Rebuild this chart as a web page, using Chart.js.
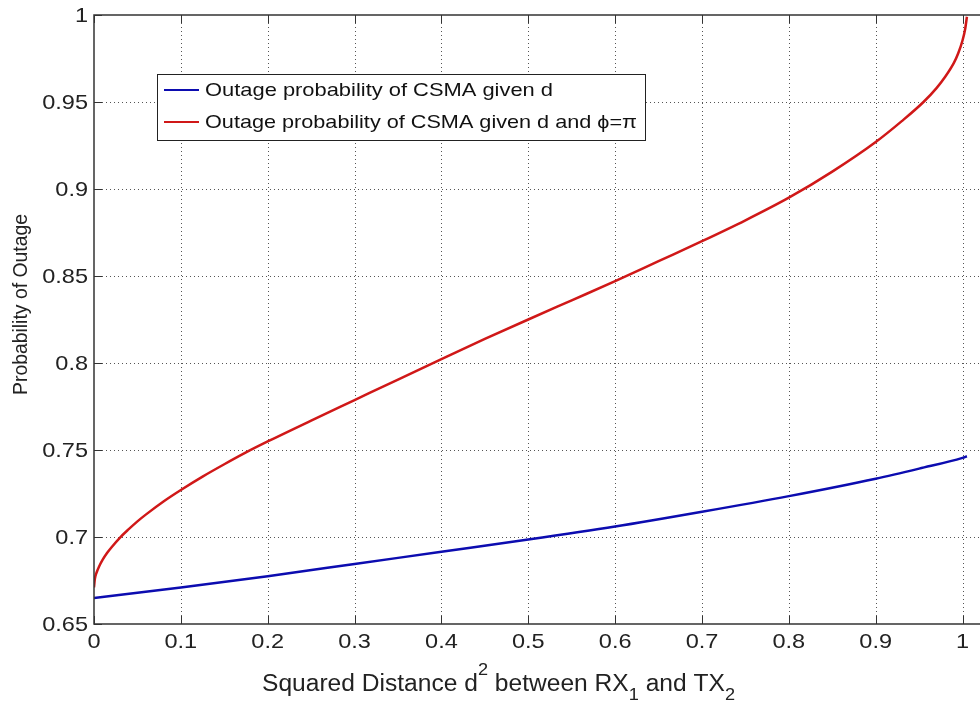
<!DOCTYPE html>
<html>
<head>
<meta charset="utf-8">
<script src="https://cdn.jsdelivr.net/npm/chart.js@4"></script>
<style>
  html, body { margin: 0; padding: 0; background: #fff; overflow: hidden; }
  #wrap { width: 1010px; height: 704px; }
</style>
</head>
<body>
<div id="wrap"><canvas id="myChart" width="1010" height="704"></canvas></div>
<script>
// 資料：值
const blueX = [0, 0.1, 0.2, 0.3, 0.4, 0.5, 0.6, 0.7, 0.8, 0.9, 0.95, 1.0, 1.005];
const blueY = [0.665, 0.671, 0.6775, 0.6845, 0.6915, 0.6985, 0.706, 0.7145, 0.7235, 0.7335, 0.7393, 0.7455, 0.7464];
const redX = [0, 0.001, 0.003, 0.006, 0.01, 0.015, 0.02, 0.03, 0.04, 0.05, 0.06, 0.08, 0.1, 0.125, 0.15, 0.175,
  0.2, 0.25, 0.3, 0.35, 0.4, 0.45, 0.5, 0.55, 0.6, 0.65, 0.7, 0.75, 0.8, 0.85, 0.9, 0.93, 0.955, 0.97, 0.98, 0.99,
  0.995, 1.0, 1.003, 1.005];
const redY = [0.671, 0.6759, 0.6796, 0.6832, 0.687, 0.6908, 0.694, 0.6997, 0.7045, 0.709, 0.713, 0.7204, 0.727, 0.7347,
  0.7418, 0.7486, 0.7549, 0.7669, 0.7787, 0.7905, 0.8022, 0.8138, 0.825, 0.836, 0.847, 0.8585, 0.870, 0.882, 0.895,
  0.910, 0.927, 0.939, 0.950, 0.958, 0.9645, 0.9725, 0.978, 0.9855, 0.992, 0.999];
const xTicks = [0, 0.1, 0.2, 0.3, 0.4, 0.5, 0.6, 0.7, 0.8, 0.9, 1];
const yTicks = [0.65, 0.7, 0.75, 0.8, 0.85, 0.9, 0.95, 1];
const seriesNames = ['Outage probability of CSMA given d', 'Outage probability of CSMA given d and \u03D5=\u03C0'];
const seriesColors = ['#0c0cb0', '#d01818'];

const FONT = '"Liberation Sans", Arial, sans-serif';

function toPoints(xs, ys) {
  return xs.map((x, i) => ({ x: x, y: ys[i] }));
}

// 橫向拉寬的文字
function wideText(ctx, text, x, y, sx) {
  ctx.save();
  ctx.translate(x, y);
  ctx.scale(sx, 1);
  ctx.fillText(text, 0, 0);
  ctx.restore();
}

function fmt(v) {
  return String(Math.round(v * 100) / 100);
}

// MATLAB 風格：點狀格線、內向刻度、圖例框、座標軸標題
const matlabPlugin = {
  id: 'matlab',
  beforeDatasetsDraw(chart) {
    const ctx = chart.ctx;
    const a = chart.chartArea;
    const xs = chart.scales.x, ys = chart.scales.y;
    ctx.save();
    ctx.strokeStyle = '#555';
    ctx.lineWidth = 1;
    ctx.setLineDash([1, 3]);
    xTicks.forEach(v => {
      if (v === 0) return;
      const px = Math.round(xs.getPixelForValue(v)) + 0.5;
      ctx.beginPath(); ctx.moveTo(px, a.top); ctx.lineTo(px, a.bottom); ctx.stroke();
    });
    yTicks.forEach(v => {
      if (v === 0.65 || v === 1) return;
      const py = Math.round(ys.getPixelForValue(v)) + 0.5;
      ctx.beginPath(); ctx.moveTo(a.left, py); ctx.lineTo(a.right, py); ctx.stroke();
    });
    ctx.restore();
  },
  afterDraw(chart) {
    const ctx = chart.ctx;
    const a = chart.chartArea;
    const xs = chart.scales.x, ys = chart.scales.y;
    ctx.save();
    ctx.setLineDash([]);
    // 外框
    ctx.lineWidth = 1.5;
    ctx.strokeStyle = '#333';
    ctx.beginPath();
    ctx.moveTo(a.right, a.top); ctx.lineTo(a.left, a.top);
    ctx.lineTo(a.left, a.bottom); ctx.lineTo(a.right, a.bottom);
    ctx.stroke();
    // 內向刻度
    ctx.lineWidth = 1;
    xTicks.forEach(v => {
      const px = Math.round(xs.getPixelForValue(v)) + 0.5;
      ctx.beginPath(); ctx.moveTo(px, a.bottom); ctx.lineTo(px, a.bottom - 8); ctx.stroke();
      ctx.beginPath(); ctx.moveTo(px, a.top); ctx.lineTo(px, a.top + 8); ctx.stroke();
    });
    yTicks.forEach(v => {
      const py = Math.round(ys.getPixelForValue(v)) + 0.5;
      ctx.beginPath(); ctx.moveTo(a.left, py); ctx.lineTo(a.left + 8, py); ctx.stroke();
    });

    // 刻度文字
    ctx.fillStyle = '#222';
    ctx.font = '21px ' + FONT;
    ctx.textBaseline = 'middle';
    ctx.textAlign = 'right';
    yTicks.forEach(v => {
      wideText(ctx, fmt(v), 88, ys.getPixelForValue(v) + 1, 1.12);
    });
    ctx.textAlign = 'center';
    xTicks.forEach(v => {
      wideText(ctx, fmt(v), xs.getPixelForValue(v), 642, 1.12);
    });

    // 圖例
    ctx.fillStyle = '#fff';
    ctx.fillRect(157, 74, 488, 66);
    ctx.strokeStyle = '#222';
    ctx.lineWidth = 1;
    ctx.strokeRect(157.5, 74.5, 488, 66);
    ctx.font = '18.5px ' + FONT;
    ctx.textBaseline = 'middle';
    ctx.textAlign = 'left';
    const rows = [90, 122];
    const rowW = [348, 432];
    seriesNames.forEach((name, i) => {
      ctx.strokeStyle = seriesColors[i];
      ctx.lineWidth = 2;
      ctx.beginPath(); ctx.moveTo(164, rows[i]); ctx.lineTo(199, rows[i]); ctx.stroke();
      ctx.fillStyle = '#111';
      const sx = rowW[i] / ctx.measureText(name).width;
      wideText(ctx, name, 205, rows[i] + 1, sx);
    });

    // x 軸標題（含上下標）
    ctx.fillStyle = '#222';
    ctx.textBaseline = 'alphabetic';
    const base = 691;
    const parts = [
      ['Squared Distance d', 23, 0],
      ['2', 17, -16],
      [' between RX', 23, 0],
      ['1', 17, 9],
      [' and TX', 23, 0],
      ['2', 17, 9]
    ];
    let total = 0;
    parts.forEach(p => { ctx.font = p[1] + 'px ' + FONT; total += ctx.measureText(p[0]).width; });
    const tsx = 473 / total;
    let x = 262;
    parts.forEach(p => {
      ctx.font = p[1] + 'px ' + FONT;
      wideText(ctx, p[0], x, base + p[2], tsx);
      x += ctx.measureText(p[0]).width * tsx;
    });

    // y 軸標題
    ctx.translate(21, 305);
    ctx.rotate(-Math.PI / 2);
    ctx.font = '20px ' + FONT;
    ctx.textAlign = 'left';
    ctx.textBaseline = 'middle';
    const yt = 'Probability of Outage';
    const ysx = 181 / ctx.measureText(yt).width;
    wideText(ctx, yt, -90, 0, ysx);
    ctx.restore();
  }
};

var canvas = document.getElementById('myChart');
var ctx = canvas.getContext('2d');
const myChart = new Chart(ctx, {
  type: 'line',
  data: {
    datasets: [
      {
        label: seriesNames[0],
        data: toPoints(blueX, blueY),
        borderColor: seriesColors[0],
        borderWidth: 2.5,
        pointRadius: 0,
        cubicInterpolationMode: 'monotone',
        fill: false,
      },
      {
        label: seriesNames[1],
        data: toPoints(redX, redY),
        borderColor: seriesColors[1],
        borderWidth: 2.5,
        pointRadius: 0,
        cubicInterpolationMode: 'monotone',
        fill: false,
      },
    ],
  },
  options: {
    responsive: false,
    animation: false,
    devicePixelRatio: 1,
    layout: {
      padding: { top: 15, right: 4, left: 0, bottom: 0 }
    },
    plugins: {
      legend: { display: false },
      tooltip: { enabled: false },
    },
    scales: {
      x: {
        type: 'linear',
        min: 0,
        max: 1.05,
        afterBuildTicks: (scale) => {
          scale.ticks = xTicks.map(v => ({ value: v }));
        },
        afterFit: (scale) => { scale.height = 80; },
        grid: { display: false },
        border: { display: false },
        ticks: { display: false },
      },
      y: {
        type: 'linear',
        min: 0.65,
        max: 1,
        afterBuildTicks: (scale) => {
          scale.ticks = yTicks.map(v => ({ value: v }));
        },
        afterFit: (scale) => { scale.width = 94; },
        grid: { display: false },
        border: { display: false },
        ticks: { display: false },
      },
    },
  },
  plugins: [matlabPlugin],
});
</script>
</body>
</html>
